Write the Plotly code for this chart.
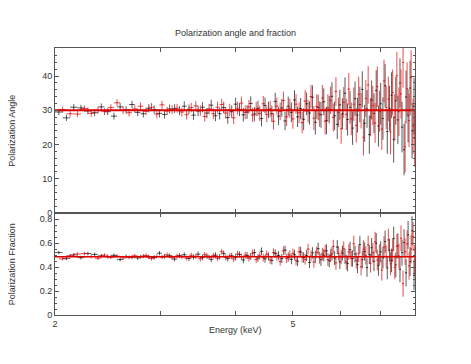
import plotly.graph_objects as go
from plotly.subplots import make_subplots

# ---- data ----
energy_black = [2.03, 2.09, 2.15, 2.21, 2.27, 2.33, 2.39, 2.45, 2.51, 2.57,
                2.63, 2.69, 2.75, 2.81, 2.87, 2.93, 2.99, 3.05, 3.11, 3.17,
                3.23, 3.29, 3.35, 3.41, 3.47, 3.53, 3.59, 3.65, 3.71, 3.77,
                3.83, 3.89, 3.95, 4.01, 4.07, 4.13, 4.19, 4.25, 4.31, 4.37,
                4.43, 4.49, 4.55, 4.61, 4.67, 4.73, 4.79, 4.85, 4.91, 4.97,
                5.03, 5.09, 5.15, 5.21, 5.27, 5.33, 5.39, 5.45, 5.51, 5.57,
                5.63, 5.69, 5.75, 5.81, 5.87, 5.93, 5.99, 6.05, 6.11, 6.17,
                6.23, 6.29, 6.35, 6.41, 6.47, 6.53, 6.59, 6.65, 6.71, 6.77,
                6.83, 6.89, 6.95, 7.01, 7.07, 7.13, 7.19, 7.25, 7.31, 7.37,
                7.43, 7.49, 7.55, 7.61, 7.67, 7.73, 7.79, 7.85, 7.91, 7.97]
energy_red = [2.06, 2.12, 2.18, 2.24, 2.30, 2.36, 2.42, 2.48, 2.54, 2.60,
              2.66, 2.72, 2.78, 2.84, 2.90, 2.96, 3.02, 3.08, 3.14, 3.20,
              3.26, 3.32, 3.38, 3.44, 3.50, 3.56, 3.62, 3.68, 3.74, 3.80,
              3.86, 3.92, 3.98, 4.04, 4.10, 4.16, 4.22, 4.28, 4.34, 4.40,
              4.46, 4.52, 4.58, 4.64, 4.70, 4.76, 4.82, 4.88, 4.94, 5.00,
              5.06, 5.12, 5.18, 5.24, 5.30, 5.36, 5.42, 5.48, 5.54, 5.60,
              5.66, 5.72, 5.78, 5.84, 5.90, 5.96, 6.02, 6.08, 6.14, 6.20,
              6.26, 6.32, 6.38, 6.44, 6.50, 6.56, 6.62, 6.68, 6.74, 6.80,
              6.86, 6.92, 6.98, 7.04, 7.10, 7.16, 7.22, 7.28, 7.34, 7.40,
              7.46, 7.52, 7.58, 7.64, 7.70, 7.76, 7.82, 7.88, 7.94, 7.99]
energy_halfwidth = 0.03

angle_black = [29.5, 27.8, 30.9, 30.7, 29.8, 29.3, 31.0, 29.6, 28.3, 31.0,
               30.1, 31.7, 29.4, 29.0, 30.6, 30.2, 29.1, 28.8, 30.4, 30.5,
               29.9, 31.2, 30.3, 28.6, 29.8, 30.9, 29.2, 31.5, 28.4, 29.0,
               30.8, 27.9, 29.6, 31.8, 30.2, 28.7, 29.5, 32.0, 28.9, 30.6,
               27.6, 31.4, 30.1, 29.0, 32.6, 28.3, 30.7, 26.9, 31.2, 29.4,
               33.0, 28.1, 30.5, 27.4, 31.9, 29.2, 33.8, 26.5, 30.8, 28.7,
               32.5, 27.0, 30.2, 34.1, 28.4, 25.9, 31.6, 29.0, 35.0, 27.3,
               30.9, 24.8, 33.4, 28.6, 31.7, 36.1, 26.2, 30.4, 22.9, 33.0,
               29.1, 35.8, 25.4, 31.9, 27.6, 37.2, 23.8, 30.6, 34.4, 21.5,
               32.8, 27.2, 38.0, 25.1, 18.5, 33.9, 28.4, 36.5, 24.0, 31.2]
angle_red = [30.2, 29.0, 28.9, 30.5, 29.1, 30.0, 29.6, 30.8, 32.2, 30.0,
             29.3, 30.4, 31.2, 29.7, 30.9, 28.9, 31.6, 29.8, 30.2, 30.6,
             29.5, 28.7, 30.8, 31.3, 29.9, 28.2, 30.4, 29.0, 30.9, 31.7,
             29.2, 30.1, 27.8, 30.6, 32.1, 29.4, 31.0, 28.6, 30.3, 29.1,
             31.9, 28.8, 30.4, 26.8, 31.2, 29.7, 32.9, 28.1, 30.6, 27.5,
             31.8, 29.3, 26.4, 32.7, 29.8, 34.0, 27.7, 31.1, 28.9, 33.6,
             26.8, 30.7, 32.9, 27.9, 35.5, 29.4, 24.6, 32.3, 28.8, 36.2,
             27.5, 31.8, 25.6, 34.7, 29.9, 22.1, 33.5, 37.4, 28.0, 31.4,
             26.3, 36.9, 29.7, 24.5, 38.6, 30.8, 33.3, 23.7, 35.2, 27.9,
             40.1, 29.6, 34.8, 44.0, 19.3, 36.3, 27.0, 39.5, 25.4, 21.8]
angle_err = [0.9, 0.9, 0.9, 0.9, 1.0, 1.0, 1.0, 1.0, 1.0, 1.1,
             1.1, 1.1, 1.1, 1.1, 1.2, 1.2, 1.2, 1.2, 1.3, 1.3,
             1.3, 1.4, 1.4, 1.4, 1.5, 1.5, 1.5, 1.6, 1.6, 1.7,
             1.7, 1.8, 1.8, 1.9, 1.9, 2.0, 2.0, 2.1, 2.1, 2.2,
             2.3, 2.3, 2.4, 2.4, 2.5, 2.6, 2.6, 2.7, 2.8, 2.9,
             2.9, 3.0, 3.1, 3.2, 3.3, 3.4, 3.5, 3.6, 3.7, 3.8,
             3.9, 4.0, 4.0, 4.1, 4.2, 4.3, 4.4, 4.5, 4.6, 4.7,
             4.8, 4.9, 5.0, 5.1, 5.2, 5.3, 5.4, 5.5, 5.6, 5.7,
             5.8, 5.9, 6.0, 6.1, 6.2, 6.3, 6.5, 6.6, 6.7, 6.8,
             7.0, 7.1, 7.2, 7.4, 7.5, 7.7, 7.8, 8.0, 8.1, 8.3]

frac_black = [0.520, 0.472, 0.501, 0.478, 0.512, 0.505, 0.493, 0.486, 0.497, 0.462,
              0.488, 0.481, 0.476, 0.490, 0.484, 0.479, 0.515, 0.489, 0.494, 0.466,
              0.495, 0.502, 0.471, 0.483, 0.507, 0.478, 0.491, 0.464, 0.499, 0.486,
              0.512, 0.470, 0.493, 0.481, 0.504, 0.459, 0.497, 0.488, 0.520, 0.475,
              0.531, 0.468, 0.489, 0.455, 0.512, 0.496, 0.470, 0.541, 0.482, 0.463,
              0.503, 0.448, 0.526, 0.479, 0.495, 0.437, 0.518, 0.485, 0.553, 0.460,
              0.498, 0.535, 0.452, 0.509, 0.474, 0.566, 0.443, 0.517, 0.489, 0.430,
              0.545, 0.471, 0.508, 0.420, 0.587, 0.462, 0.529, 0.395, 0.503, 0.561,
              0.448, 0.598, 0.413, 0.527, 0.476, 0.612, 0.392, 0.539, 0.455, 0.637,
              0.418, 0.576, 0.380, 0.520, 0.604, 0.352, 0.668, 0.445, 0.702, 0.330]
frac_red = [0.468, 0.495, 0.508, 0.512, 0.487, 0.473, 0.499, 0.481, 0.490, 0.476,
            0.479, 0.493, 0.485, 0.496, 0.471, 0.488, 0.482, 0.501, 0.477, 0.492,
            0.486, 0.474, 0.498, 0.489, 0.469, 0.503, 0.481, 0.495, 0.472, 0.527,
            0.480, 0.491, 0.467, 0.509, 0.486, 0.498, 0.474, 0.515, 0.462, 0.494,
            0.478, 0.506, 0.459, 0.521, 0.488, 0.447, 0.535, 0.471, 0.500, 0.514,
            0.456, 0.528, 0.481, 0.464, 0.549, 0.492, 0.441, 0.523, 0.477, 0.509,
            0.533, 0.462, 0.496, 0.571, 0.435, 0.512, 0.483, 0.552, 0.441, 0.525,
            0.470, 0.594, 0.455, 0.511, 0.402, 0.548, 0.497, 0.585, 0.432, 0.520,
            0.610, 0.458, 0.503, 0.375, 0.567, 0.489, 0.626, 0.427, 0.540, 0.398,
            0.573, 0.492, 0.640, 0.261, 0.528, 0.593, 0.410, 0.550, 0.655, 0.462]
frac_err = [0.014, 0.014, 0.014, 0.015, 0.015, 0.015, 0.015, 0.016, 0.016, 0.016,
            0.016, 0.017, 0.017, 0.017, 0.018, 0.018, 0.018, 0.019, 0.019, 0.020,
            0.020, 0.020, 0.021, 0.021, 0.022, 0.022, 0.023, 0.023, 0.024, 0.024,
            0.025, 0.025, 0.026, 0.027, 0.027, 0.028, 0.029, 0.029, 0.030, 0.031,
            0.032, 0.032, 0.033, 0.034, 0.035, 0.036, 0.037, 0.038, 0.039, 0.040,
            0.041, 0.042, 0.043, 0.044, 0.045, 0.046, 0.047, 0.049, 0.050, 0.051,
            0.052, 0.054, 0.055, 0.056, 0.058, 0.059, 0.060, 0.062, 0.063, 0.065,
            0.066, 0.068, 0.069, 0.071, 0.072, 0.074, 0.076, 0.077, 0.079, 0.081,
            0.083, 0.085, 0.086, 0.088, 0.090, 0.092, 0.094, 0.096, 0.098, 0.100,
            0.102, 0.104, 0.107, 0.109, 0.111, 0.114, 0.116, 0.119, 0.121, 0.124]

model_energy = [2.0, 8.0]
model_angle = [30.0, 30.0]
model_frac = [0.485, 0.485]

x_ticks = [2, 3, 4, 5, 6, 7, 8]
x_ticktext = ["2", "", "", "5", "", "", ""]

BLACK = "rgba(20,20,20,0.7)"
RED = "rgba(230,0,0,0.7)"
FONT = "Liberation Sans, Arial, sans-serif"

fig = make_subplots(rows=2, cols=1, shared_xaxes=True, vertical_spacing=0,
                    row_heights=[165 / 267, 102 / 267])


def add_series(x, y, yerr, color, row):
    fig.add_trace(go.Scatter(
        x=x, y=y, mode="markers",
        marker=dict(size=1, color=color),
        error_x=dict(type="constant", value=energy_halfwidth, color=color,
                     thickness=1, width=0),
        error_y=dict(type="data", array=yerr, color=color, thickness=1, width=0),
        showlegend=False, hoverinfo="skip"), row=row, col=1)


add_series(energy_black, angle_black, angle_err, BLACK, 1)
add_series(energy_red, angle_red, angle_err, RED, 1)
add_series(energy_black, frac_black, frac_err, BLACK, 2)
add_series(energy_red, frac_red, frac_err, RED, 2)

fig.add_trace(go.Scatter(x=model_energy, y=model_angle, mode="lines",
                         line=dict(color="rgb(220,0,0)", width=2),
                         showlegend=False, hoverinfo="skip"), row=1, col=1)
fig.add_trace(go.Scatter(x=model_energy, y=model_frac, mode="lines",
                         line=dict(color="rgb(220,0,0)", width=1.5),
                         showlegend=False, hoverinfo="skip"), row=2, col=1)

axis_common = dict(showline=True, linecolor="#555", linewidth=1, mirror="ticks",
                   ticks="inside", ticklen=4, tickcolor="#555", showgrid=False,
                   zeroline=False, tickfont=dict(family=FONT, size=9, color="#333"))

fig.update_xaxes(type="log", range=[0.30103, 0.90309], tickvals=x_ticks,
                 ticktext=x_ticktext, **axis_common)
fig.update_xaxes(showticklabels=False, row=1, col=1)

fig.update_yaxes(range=[0, 48.2], tickvals=[0, 10, 20, 30, 40],
                 minor=dict(ticks="inside", ticklen=2, dtick=2, tickcolor="#555"),
                 row=1, col=1, **axis_common)
fig.update_yaxes(range=[0, 0.85], tickvals=[0, 0.2, 0.4, 0.6, 0.8],
                 ticktext=["0", "0.2", "0.4", "0.6", "0.8"],
                 minor=dict(ticks="inside", ticklen=2, dtick=0.05, tickcolor="#555"),
                 row=2, col=1, **axis_common)

# page body has an 8px margin; figure size/margins compensate for it
fig.update_layout(
    width=463, height=356,
    margin=dict(l=47, r=56, t=40, b=49),
    paper_bgcolor="white", plot_bgcolor="white",
    font=dict(family=FONT, size=9, color="#333"),
    annotations=[
        dict(text="Polarization angle and fraction", xref="paper", yref="paper",
             x=0.5, y=1, yshift=15, showarrow=False, xanchor="center",
             yanchor="middle", font=dict(family=FONT, size=9, color="#333")),
        dict(text="Polarization Angle", xref="paper", yref="paper",
             x=0, xshift=-43, y=0.69, showarrow=False, textangle=-90,
             xanchor="center", yanchor="middle",
             font=dict(family=FONT, size=9, color="#333")),
        dict(text="Polarization Fraction", xref="paper", yref="paper",
             x=0, xshift=-43, y=0.19, showarrow=False, textangle=-90,
             xanchor="center", yanchor="middle",
             font=dict(family=FONT, size=9, color="#333")),
        dict(text="Energy (keV)", xref="paper", yref="paper",
             x=0.5, y=0, yshift=-15, showarrow=False, xanchor="center",
             yanchor="middle", font=dict(family=FONT, size=9, color="#333")),
    ],
)

fig.write_html("out.html")
